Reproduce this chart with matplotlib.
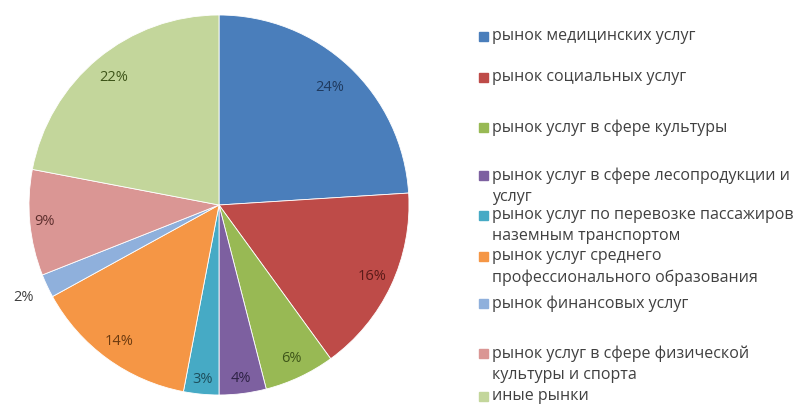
import matplotlib.pyplot as plt
import numpy as np
from matplotlib.patches import Rectangle

labels = [
    "рынок медицинских услуг",
    "рынок социальных услуг",
    "рынок услуг в сфере культуры",
    "рынок услуг в сфере лесопродукции и\nуслуг",
    "рынок услуг по перевозке пассажиров\nназемным транспортом",
    "рынок услуг среднего\nпрофессионального образования",
    "рынок финансовых услуг",
    "рынок услуг в сфере физической\nкультуры и спорта",
    "иные рынки",
]
shares = [24, 16, 6, 4, 3, 14, 2, 9, 22]
colors = ["#4a7ebb", "#be4b48", "#98b954", "#7d60a0", "#46aac5",
          "#f59645", "#8fb0dc", "#da9694", "#c3d69b"]
text_colors = ["#1f3a5f", "#5a1a18", "#3e5519", "#2e2245", "#1d4e5c",
               "#6b3a10", "#404040", "#5e2f2e", "#3e5519"]

fig = plt.figure(figsize=(7.96, 4.05), dpi=100)
plt.rcParams['font.family'] = ['Open Sans', 'DejaVu Sans']

# pie axes: centre (219, 205) px, radius 190 px
cx, cy, r = 219, 205, 190
ax = fig.add_axes([(cx - r) / 796, (405 - cy - r) / 405, 2 * r / 796, 2 * r / 405])
wedges, _ = ax.pie(shares, colors=colors, startangle=90, counterclock=False,
                   radius=1, wedgeprops=dict(edgecolor="white", linewidth=0.6))
ax.set_xlim(-1, 1)
ax.set_ylim(-1, 1)
ax.set_aspect("equal")
ax.set_axis_off()

dist = [0.85, 0.89, 0.89, 0.92, 0.92, 0.89, 1.14, 0.92, 0.87]
for w, s, d, tc in zip(wedges, shares, dist, text_colors):
    ang = np.deg2rad((w.theta1 + w.theta2) / 2)
    ax.text(d * np.cos(ang), d * np.sin(ang), f"{s}%", ha="center", va="center",
            fontsize=10.5, color=tc)

# legend, laid out like the original
legend_y = [36, 77, 127, 175, 215, 256, 303, 353, 396]
for lab, c, y in zip(labels, colors, legend_y):
    fig.patches.append(Rectangle((479 / 796, 1 - (y + 5) / 405), 9 / 796, 9 / 405,
                                 transform=fig.transFigure, color=c))
    fig.text(492 / 796, 1 - (y - 8) / 405, lab, ha="left", va="top", fontsize=11.5,
             color="#404040", linespacing=1.45)

fig.savefig("out.png", dpi=100)
